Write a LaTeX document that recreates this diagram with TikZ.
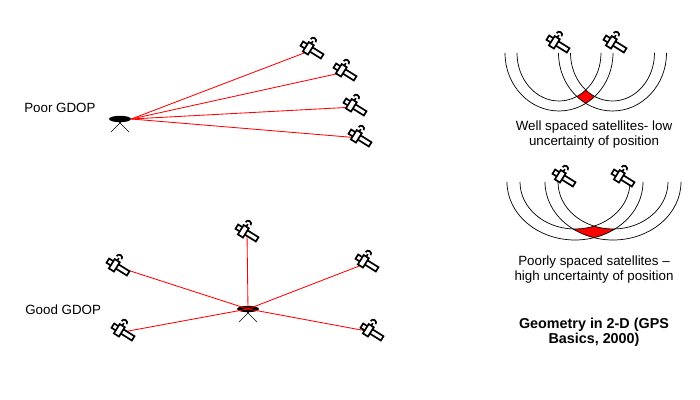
\documentclass[tikz,border=0pt]{standalone}
\usepackage{fontspec}
\setmainfont{Liberation Sans}
\usepackage{tikz}
\usetikzlibrary{shapes.geometric}
\definecolor{myred}{RGB}{255, 0, 0}

\tikzset{
    sat/.pic={
        \begin{scope}[rotate=-32, line width=1.2pt]
            \draw[fill=white] (-12,-2.5) rectangle (12,2.5);
            \draw[fill=white] (-7,-5) rectangle (-1,6);
            \draw (-4,-5) -- (-4,-8);
            \draw[fill=white] (-7,-8.5) arc[start angle=180, end angle=360, radius=3];
        \end{scope}
    },
    rcv/.style={ellipse, fill=black, inner sep=0pt, minimum width=0.55cm, minimum height=0.16cm},
    sig/.style={myred, line width=0.6pt},
    leg/.style={black, line width=0.4pt},
    ring/.style={black, line width=0.5pt},
    lbl/.style={font=\fontsize{9.5}{10.6}\selectfont, align=center, inner sep=0pt},
}

\begin{document}
\begin{tikzpicture}[x=0.025cm, y=-0.025cm]
    \useasboundingbox (0,0) rectangle (700,400);

    % Poor GDOP
    \node[lbl, anchor=west] (poor) at (24,108) {Poor GDOP};
    \node[rcv] (pr) at (120,119) {};
    \draw[leg] ([shift={(3,1)}]pr.center) -- ([shift={(-9,13)}]pr.center);
    \draw[leg] ([shift={(-3,1)}]pr.center) -- ([shift={(9,13)}]pr.center);
    \coordinate (ps1) at (312,50);
    \coordinate (ps2) at (345,72);
    \coordinate (ps3) at (355,107);
    \coordinate (ps4) at (360,138);
    \foreach \s in {ps1,ps2,ps3,ps4}
        \draw[sig] (pr.east) -- (\s);
    \foreach \s in {ps1,ps2,ps3,ps4}
        \pic at (\s) {sat};

    % Good GDOP
    \node[lbl, anchor=west] (good) at (25,310) {Good GDOP};
    \node[rcv] (gr) at (248,309) {};
    \draw[leg] ([shift={(3,1)}]gr.center) -- ([shift={(-9,13)}]gr.center);
    \draw[leg] ([shift={(-3,1)}]gr.center) -- ([shift={(9,13)}]gr.center);
    \coordinate (gs1) at (247,233);
    \coordinate (gs2) at (118,267);
    \coordinate (gs3) at (123,332);
    \coordinate (gs4) at (367,263);
    \coordinate (gs5) at (372,332);
    \foreach \s in {gs1,gs2,gs3,gs4,gs5}
        \draw[sig] (gr.center) -- (\s);
    \foreach \s in {gs1,gs2,gs3,gs4,gs5}
        \pic at (\s) {sat};

    % well spaced
    \coordinate (wc1) at (559,53);
    \coordinate (wc2) at (612.5,53);
    \begin{scope}
        \clip (495,53) rectangle (690,130);
        \begin{scope}[even odd rule]
            \clip (wc1) ellipse[x radius=54, y radius=58] (wc1) ellipse[x radius=42, y radius=48];
            \fill[myred] (wc2) ellipse[x radius=54, y radius=58] (wc2) ellipse[x radius=42, y radius=48];
        \end{scope}
    \end{scope}
    \foreach \c in {wc1,wc2} {
        \draw[ring] (\c) ++(54,0) arc[start angle=0, end angle=180, x radius=54, y radius=58];
        \draw[ring] (\c) ++(42,0) arc[start angle=0, end angle=180, x radius=42, y radius=48];
    }
    \coordinate (ws1) at (558,44);
    \coordinate (ws2) at (615,44);
    \pic at (ws1) {sat};
    \pic at (ws2) {sat};
    \node[lbl] (well) at (594,134.5) {Well spaced satellites- low\\uncertainty of position};

    % poorly spaced
    \coordinate (bc1) at (575,182);
    \coordinate (bc2) at (613,182);
    \begin{scope}
        \clip (495,182) rectangle (690,250);
        \begin{scope}[even odd rule]
            \clip (bc1) ellipse[x radius=68, y radius=58] (bc1) ellipse[x radius=55, y radius=47];
            \fill[myred] (bc2) ellipse[x radius=68, y radius=58] (bc2) ellipse[x radius=55, y radius=47];
        \end{scope}
    \end{scope}
    \foreach \c in {bc1,bc2} {
        \draw[ring] (\c) ++(68,0) arc[start angle=0, end angle=180, x radius=68, y radius=58];
        \draw[ring] (\c) ++(55,0) arc[start angle=0, end angle=180, x radius=55, y radius=47];
    }
    \coordinate (bs1) at (564,178);
    \coordinate (bs2) at (623,178);
    \pic at (bs1) {sat};
    \pic at (bs2) {sat};
    \node[lbl] (bad) at (594,269.5) {Poorly spaced satellites --\\high uncertainty of position};

    % title
    \node[lbl, font=\fontsize{10.2}{10.6}\selectfont\bfseries] (title) at (594,332.5) {Geometry in 2-D (GPS\\Basics, 2000)};
\end{tikzpicture}
\end{document}
